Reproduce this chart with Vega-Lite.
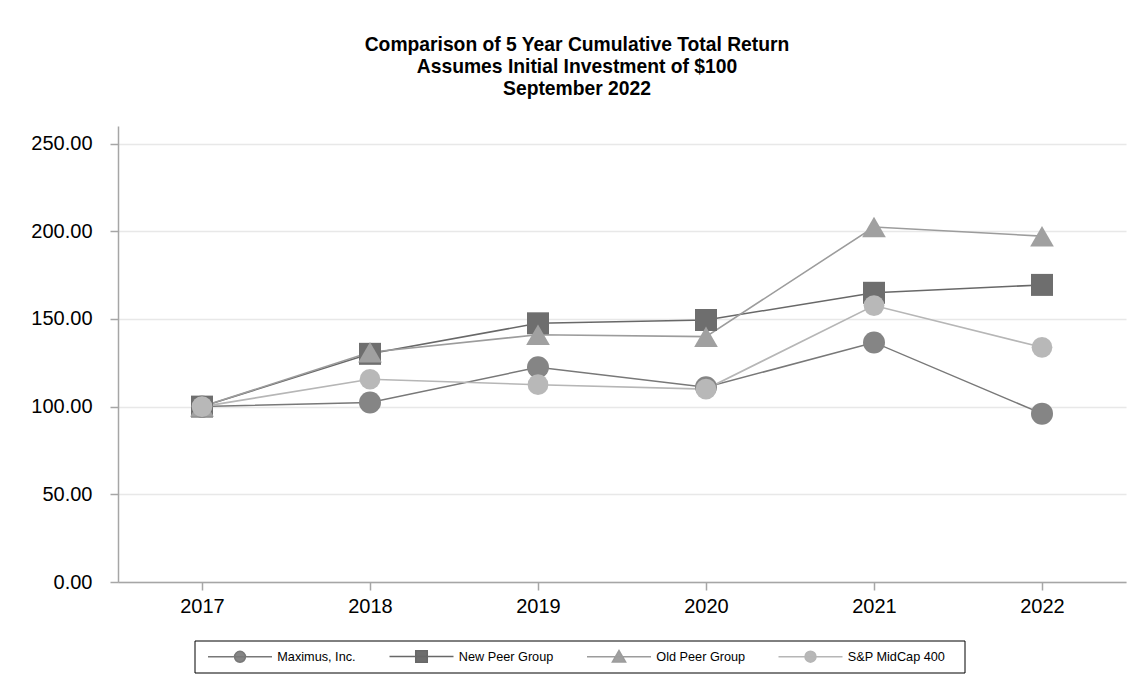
{
  "$schema": "https://vega.github.io/schema/vega-lite/v6.json",
  "width": 1008,
  "height": 456,
  "autosize": {"type": "none"},
  "padding": {"left": 118, "top": 126, "right": 10, "bottom": 106},
  "background": "white",
  "title": {
    "text": ["Comparison of 5 Year Cumulative Total Return", "Assumes Initial Investment of $100", "September 2022"],
    "anchor": "middle",
    "frame": "group",
    "dx": -45,
    "offset": 27,
    "font": "Liberation Sans",
    "fontSize": 19.3,
    "fontWeight": "bold",
    "lineHeight": 22,
    "color": "black"
  },
  "data": {
    "values": [
      {"year": "2017", "series": "Maximus, Inc.", "value": 100},
      {"year": "2018", "series": "Maximus, Inc.", "value": 102.4},
      {"year": "2019", "series": "Maximus, Inc.", "value": 122.4},
      {"year": "2020", "series": "Maximus, Inc.", "value": 111},
      {"year": "2021", "series": "Maximus, Inc.", "value": 136.6},
      {"year": "2022", "series": "Maximus, Inc.", "value": 96},
      {"year": "2017", "series": "New Peer Group", "value": 100},
      {"year": "2018", "series": "New Peer Group", "value": 130.1},
      {"year": "2019", "series": "New Peer Group", "value": 147.5},
      {"year": "2020", "series": "New Peer Group", "value": 149.4},
      {"year": "2021", "series": "New Peer Group", "value": 164.9},
      {"year": "2022", "series": "New Peer Group", "value": 169.4},
      {"year": "2017", "series": "Old Peer Group", "value": 100},
      {"year": "2018", "series": "Old Peer Group", "value": 131},
      {"year": "2019", "series": "Old Peer Group", "value": 141},
      {"year": "2020", "series": "Old Peer Group", "value": 139.9},
      {"year": "2021", "series": "Old Peer Group", "value": 202.4},
      {"year": "2022", "series": "Old Peer Group", "value": 197.2},
      {"year": "2017", "series": "S&P MidCap 400", "value": 100},
      {"year": "2018", "series": "S&P MidCap 400", "value": 115.6},
      {"year": "2019", "series": "S&P MidCap 400", "value": 112.5},
      {"year": "2020", "series": "S&P MidCap 400", "value": 110},
      {"year": "2021", "series": "S&P MidCap 400", "value": 157.6},
      {"year": "2022", "series": "S&P MidCap 400", "value": 133.8}
    ]
  },
  "config": {
    "view": {"stroke": null},
    "font": "Liberation Sans",
    "axis": {
      "domainColor": "#a6a6a6",
      "domainWidth": 1.5,
      "tickColor": "#a6a6a6",
      "tickWidth": 1.5,
      "tickSize": 8,
      "labelFont": "Liberation Sans",
      "labelFontSize": 20,
      "labelColor": "black",
      "gridColor": "#e8e8e8",
      "gridWidth": 1.5,
      "title": null
    },
    "legend": {
      "orient": "none",
      "legendX": 76.5,
      "legendY": 514.5,
      "direction": "horizontal",
      "title": null,
      "labelFont": "Liberation Sans",
      "labelFontSize": 12.7,
      "labelColor": "black",
      "symbolSize": 256,
      "symbolOffset": 5.5,
      "labelOffset": 52.3,
      "columnPadding": 26.5,
      "padding": 7,
      "strokeColor": "black"
    }
  },
  "encoding": {
    "x": {
      "field": "year",
      "type": "ordinal",
      "scale": {"type": "point", "padding": 0.5},
      "axis": {"labelAngle": 0, "grid": false, "labelPadding": 6}
    },
    "y": {
      "field": "value",
      "type": "quantitative",
      "scale": {"domain": [0, 260], "nice": false},
      "axis": {"values": [0, 50, 100, 150, 200, 250], "format": ".2f", "grid": true, "labelPadding": 18}
    }
  },
  "layer": [
    {
      "mark": {"type": "line"},
      "encoding": {
        "stroke": {
          "field": "series",
          "type": "nominal",
          "scale": {"domain": ["Maximus, Inc.", "New Peer Group", "Old Peer Group", "S&P MidCap 400"], "range": ["#787878", "#686868", "#9c9c9c", "#b6b6b6"]}
        },
        "strokeWidth": {
          "field": "series",
          "type": "nominal",
          "scale": {"domain": ["Maximus, Inc.", "New Peer Group", "Old Peer Group", "S&P MidCap 400"], "range": [1.5, 1.6, 1.3, 3]}
        }
      }
    },
    {
      "transform": [{"filter": "datum.series == 'Maximus, Inc.'"}],
      "mark": {"type": "point", "shape": "circle", "filled": true, "opacity": 1, "size": 484},
      "encoding": {
        "fill": {
          "field": "series",
          "type": "nominal",
          "scale": {"domain": ["Maximus, Inc.", "New Peer Group", "Old Peer Group", "S&P MidCap 400"], "range": ["#858585", "#6e6e6e", "#a0a0a0", "#b8b8b8"]}
        }
      }
    },
    {
      "transform": [{"filter": "datum.series == 'New Peer Group'"}],
      "mark": {"type": "point", "shape": "square", "filled": true, "opacity": 1, "size": 484},
      "encoding": {"fill": {"field": "series", "type": "nominal"}}
    },
    {
      "transform": [{"filter": "datum.series == 'Old Peer Group'"}],
      "mark": {"type": "point", "shape": "triangle-up", "filled": true, "opacity": 1, "size": 560},
      "encoding": {"fill": {"field": "series", "type": "nominal"}}
    },
    {
      "transform": [{"filter": "datum.series == 'S&P MidCap 400'"}],
      "mark": {"type": "point", "shape": "circle", "filled": true, "opacity": 1, "size": 430},
      "encoding": {"fill": {"field": "series", "type": "nominal"}}
    },
    {
      "transform": [{"filter": "datum.value < 0"}],
      "mark": {"type": "point", "filled": true, "opacity": 1, "size": 256},
      "encoding": {
        "fill": {"field": "series", "type": "nominal"},
        "stroke": {"field": "series", "type": "nominal"},
        "strokeWidth": {"field": "series", "type": "nominal"},
        "shape": {
          "field": "series",
          "type": "nominal",
          "scale": {
            "domain": ["Maximus, Inc.", "New Peer Group", "Old Peer Group", "S&P MidCap 400"],
            "range": [
              "M-1,0H7M3.68,0A0.68,0.68,0,1,1,2.32,0A0.68,0.68,0,1,1,3.68,0Z",
              "M-1,0H7M2.28,-0.72H3.72V0.72H2.28Z",
              "M-1,0H7M3,-0.78L3.82,0.65H2.18Z",
              "M20.95,0M-1,0H7M3.68,0A0.68,0.68,0,1,1,2.32,0A0.68,0.68,0,1,1,3.68,0Z"
            ]
          },
          "legend": {
            "encode": {
              "legend": {"update": {"strokeWidth": {"value": 3}}},
              "symbols": {
                "update": {
                  "fill": {"scale": "fill", "field": "value"},
                  "stroke": {"scale": "stroke", "field": "value"},
                  "strokeWidth": {"scale": "strokeWidth", "field": "value"},
                  "opacity": {"value": 1}
                }
              }
            }
          }
        }
      }
    }
  ]
}
